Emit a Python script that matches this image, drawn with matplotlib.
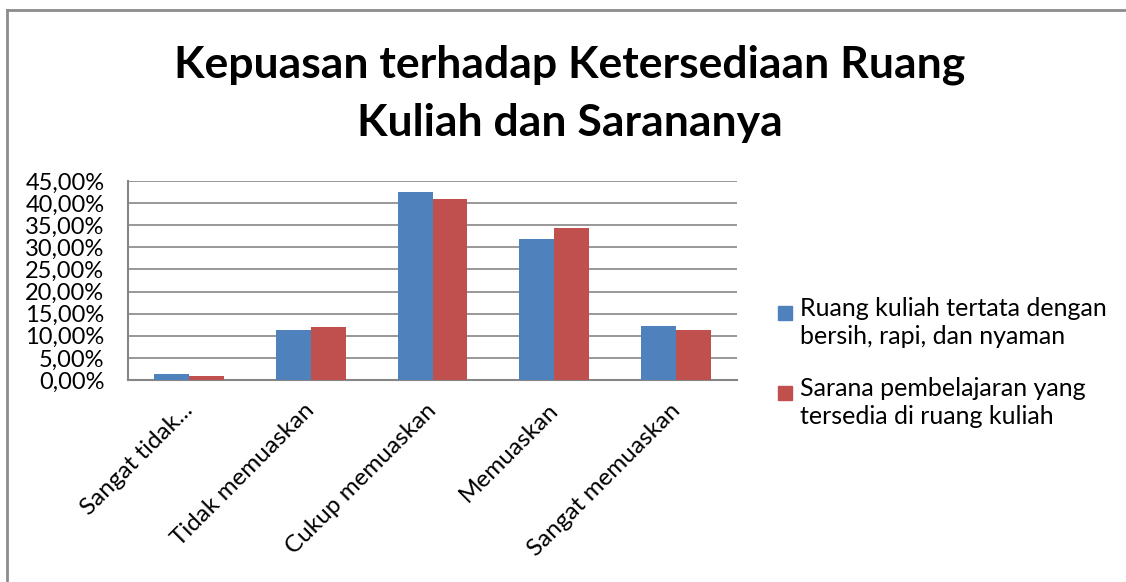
import numpy as np
import matplotlib.pyplot as plt
from matplotlib.lines import Line2D
from matplotlib.patches import Rectangle
from matplotlib.ticker import FuncFormatter
from matplotlib.transforms import ScaledTranslation

# data (percent)
categories = ['Sangat tidak...', 'Tidak memuaskan', 'Cukup memuaskan',
              'Memuaskan', 'Sangat memuaskan']
ruang_kuliah = [1.45, 11.35, 42.4, 31.9, 12.3]
sarana = [0.9, 11.9, 40.9, 34.4, 11.35]
series_names = ['Ruang kuliah tertata dengan\nbersih, rapi, dan nyaman',
                'Sarana pembelajaran yang\ntersedia di ruang kuliah']
colors = ['#4F81BD', '#C0504D']

plt.rcParams['font.family'] = ['Lato', 'DejaVu Sans']

fig = plt.figure(figsize=(11.26, 5.82), dpi=100)
ax = fig.add_axes([128 / 1126, 1 - 380 / 582, 609 / 1126, 199 / 582])

x = np.arange(len(categories))
w = 0.286
ax.bar(x - w / 2, ruang_kuliah, w, color=colors[0], zorder=3)
ax.bar(x + w / 2, sarana, w, color=colors[1], zorder=3)

ax.set_xlim(-0.5, len(categories) - 0.5)
ax.set_ylim(0, 45)
ax.set_yticks(np.arange(0, 46, 5))
ax.yaxis.set_major_formatter(FuncFormatter(lambda v, p: f'{v:.2f}%'.replace('.', ',')))
ax.grid(axis='y', color='#868686', linewidth=1.2, zorder=0)
ax.tick_params(axis='y', length=0, labelsize=17, pad=17)
ax.tick_params(axis='x', length=0, labelsize=17.5, pad=14)
for s in ['top', 'right']:
    ax.spines[s].set_visible(False)
for s in ['left', 'bottom']:
    ax.spines[s].set_color('#868686')
    ax.spines[s].set_linewidth(1.5)

ax.set_xticks(x)
ax.set_xticklabels(categories, rotation=45, ha='right', rotation_mode='anchor')
shift = ScaledTranslation(-7 / 100, 0, fig.dpi_scale_trans)
for lbl in ax.get_xticklabels():
    lbl.set_transform(lbl.get_transform() + shift)

fig.text(0.506, 1 - 65 / 582, 'Kepuasan terhadap Ketersediaan Ruang',
         ha='center', va='center', fontsize=32, fontweight='bold')
fig.text(0.506, 1 - 123 / 582, 'Kuliah dan Sarananya',
         ha='center', va='center', fontsize=32, fontweight='bold')

# legend: square beside the first line of each two-line entry
for i, (name, c) in enumerate(zip(series_names, colors)):
    y_top = 1 - (306 + i * 80) / 582
    fig.add_artist(Rectangle((778 / 1126, y_top - 14 / 582), 14 / 1126, 14 / 582,
                             transform=fig.transFigure, color=c))
    fig.text(800 / 1126, 1 - (297 + i * 80) / 582, name, ha='left', va='top',
             fontsize=18, linespacing=1.28)

# chart border (only left and top edges fall inside the picture)
fig.add_artist(Line2D([7 / 1126, 7 / 1126], [0, 1 - 10 / 582],
                      transform=fig.transFigure, color='#8c8c8c', linewidth=2))
fig.add_artist(Line2D([7 / 1126, 1], [1 - 10 / 582, 1 - 10 / 582],
                      transform=fig.transFigure, color='#8c8c8c', linewidth=2))

fig.savefig('out.png', dpi=100)
